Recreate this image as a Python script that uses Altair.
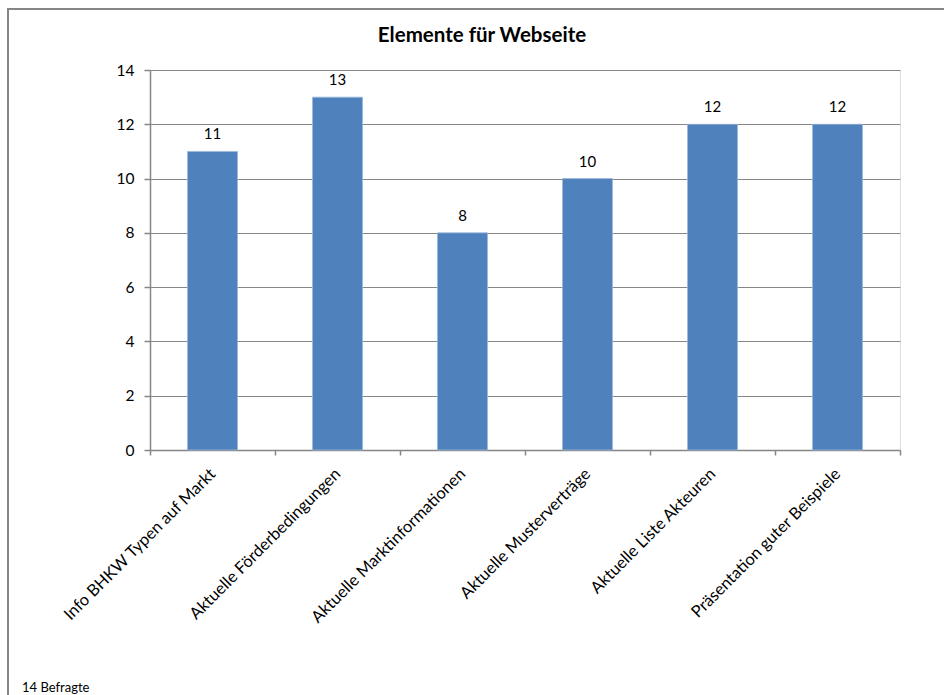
import altair as alt
import pandas as pd

categories = [
    "Info BHKW Typen auf Markt",
    "Aktuelle Förderbedingungen",
    "Aktuelle Marktinformationen",
    "Aktuelle Musterverträge",
    "Aktuelle Liste Akteuren",
    "Präsentation guter Beispiele",
]
values = [11, 13, 8, 10, 12, 12]
title_text = ["Elemente für Webseite"]
footnote = ["14 Befragte"]
y_ticks = [0, 2, 4, 6, 8, 10, 12, 14]

df = pd.DataFrame({"cat": categories, "val": values})
FONT = "Lato"
GRAY = "#868686"

x = alt.X(
    "cat:N",
    sort=categories,
    title=None,
    scale=alt.Scale(paddingInner=0, paddingOuter=0),
    axis=alt.Axis(
        labelAngle=-45,
        labelAlign="right",
        labelBaseline="middle",
        labelFontSize=16.5,
        labelFont=FONT,
        labelColor="#000000",
        labelPadding=16,
        labelLimit=400,
        tickBand="extent",
        tickColor=GRAY,
        tickSize=5,
        tickWidth=1.5,
        domainColor=GRAY,
        domainWidth=1.5,
        grid=False,
    ),
)
y = alt.Y(
    "val:Q",
    title=None,
    scale=alt.Scale(domain=[0, 14], nice=False),
    axis=alt.Axis(
        values=y_ticks,
        labelFontSize=15.5,
        labelFont=FONT,
        labelColor="#000000",
        labelPadding=10,
        tickColor=GRAY,
        tickSize=6,
        tickWidth=1.5,
        domainColor=GRAY,
        domainWidth=1.5,
        gridColor=GRAY,
        gridWidth=1.2,
    ),
)

border = alt.Chart(pd.DataFrame({"a": [0]})).mark_rect(
    filled=False, stroke=GRAY, strokeWidth=2
).encode(
    x=alt.value(-142), x2=alt.value(820), y=alt.value(-61), y2=alt.value(700)
)

bars = alt.Chart(df).mark_bar(width=50, color="#4F81BD", stroke="#9db7dc", strokeWidth=0.8).encode(x=x, y=y)
labels = alt.Chart(df).mark_text(dy=-17, fontSize=15, font=FONT, color="#000000").encode(
    x=alt.X("cat:N", sort=categories), y="val:Q", text="val:Q"
)
note = alt.Chart(pd.DataFrame({"t": footnote})).mark_text(
    align="left", baseline="alphabetic", fontSize=13, font=FONT, color="#000000"
).encode(x=alt.value(-128), y=alt.value(622), text="t:N")
title = alt.Chart(pd.DataFrame({"t": title_text})).mark_text(
    align="center", baseline="middle", fontSize=20.5, fontWeight="bold", font=FONT, color="#000000"
).encode(x=alt.value(332), y=alt.value(-34), text="t:N")

chart = alt.layer(border, bars, labels, note, title).properties(
    width=750,
    height=380,
    autosize=alt.AutoSizeParams(type="none"),
    padding={"left": 150, "top": 70, "right": 44, "bottom": 245},
).configure_view(stroke=None).configure(background="white")

chart.save("out.html", embed_options={"renderer": "svg", "actions": False})
